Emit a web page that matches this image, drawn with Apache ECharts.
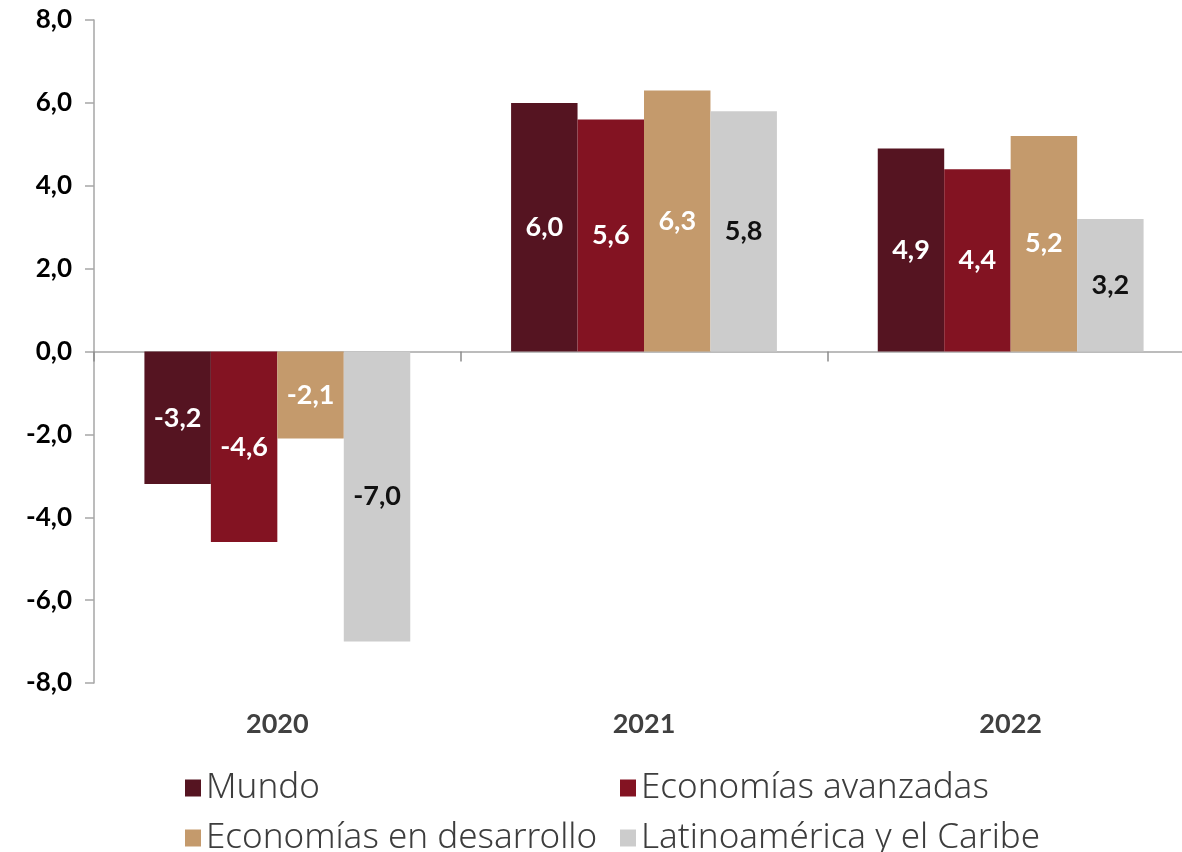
<!DOCTYPE html>
<html><head><meta charset="utf-8">
<script src="https://cdn.jsdelivr.net/npm/echarts@6/dist/echarts.min.js"></script>
<style>html,body{margin:0;padding:0;background:#fff}#c{width:1182px;height:852px}</style>
</head><body><div id="c"></div>
<script>
const categories = ['2020', '2021', '2022'];
const seriesNames = ['Mundo', 'Economías avanzadas', 'Economías en desarrollo', 'Latinoamérica y el Caribe'];
const mundo = [-3.2, 6.0, 4.9];
const avanzadas = [-4.6, 5.6, 4.4];
const desarrollo = [-2.1, 6.3, 5.2];
const latam = [-7.0, 5.8, 3.2];
const colors = ['#551421', '#831322', '#C49A6C', '#CCCCCC'];
const labelColors = ['#ffffff', '#ffffff', '#ffffff', '#111111'];
const values = [mundo, avanzadas, desarrollo, latam];

const fmt = v => Number(v).toFixed(1).replace('.', ',');
const chart = echarts.init(document.getElementById('c'));
const legendPos = [[185, 770], [620, 770], [185, 820], [620, 820]];
chart.setOption({
  animation: false,
  grid: { left: 94, top: 20, bottom: 169, width: 1100, outerBoundsMode: 'none', containLabel: false },
  xAxis: [
    { type: 'category', data: categories, position: 'bottom',
      axisLine: { show: false, onZero: false }, axisTick: { show: false },
      axisLabel: { margin: 28, fontFamily: 'Lato', fontWeight: 'bold', fontSize: 27, color: '#404040' } },
    { type: 'category', data: categories, position: 'top',
      axisLine: { onZero: true, onZeroAxisIndex: 0, lineStyle: { color: '#a6a6a6', width: 1.5 } },
      axisTick: { show: true, inside: true, length: 10, lineStyle: { color: '#8c8c8c', width: 1.5 } },
      axisLabel: { show: false } }
  ],
  yAxis: {
    type: 'value', min: -8, max: 8, interval: 2,
    axisLine: { show: true, onZero: false, lineStyle: { color: '#a6a6a6', width: 1.5 } },
    axisTick: { show: true, length: 9, lineStyle: { color: '#a6a6a6', width: 1.5 } },
    splitLine: { show: false },
    axisLabel: { formatter: fmt, margin: 22, fontFamily: 'Lato', fontWeight: 'bold', fontSize: 26, color: '#000' }
  },
  legend: seriesNames.map((n, i) => ({
    data: [n], left: legendPos[i][0], top: legendPos[i][1],
    itemWidth: 16, itemHeight: 17, icon: 'rect', padding: 0,
    textStyle: { fontFamily: 'Noto Sans', fontWeight: 300, fontSize: 35, color: '#3d3d3d', lineHeight: 36 }
  })),
  series: seriesNames.map((n, i) => ({
    name: n, type: 'bar', data: values[i], xAxisIndex: 0,
    barGap: '0%', barCategoryGap: '27.5%',
    itemStyle: { color: colors[i] },
    label: { show: true, position: 'inside', formatter: p => fmt(p.value),
      fontFamily: 'Lato', fontWeight: 'bold', fontSize: 27, color: labelColors[i] }
  }))
});
</script></body></html>
